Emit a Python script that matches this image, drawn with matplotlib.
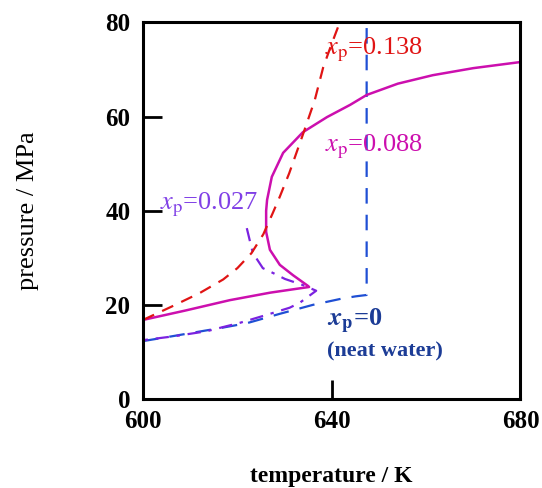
import numpy as np
import matplotlib
matplotlib.use('Agg')
import matplotlib.pyplot as plt
import matplotlib as mpl

mpl.rcParams['font.family'] = 'Liberation Serif'
mpl.rcParams['mathtext.fontset'] = 'stix'

# x_p = 0 (neat water): saturation curve + critical isotherm
T_w = [600, 606, 613, 616, 622, 629, 636, 642, 645, 647.4, 647.4]
P_w = [12.3, 13.3, 14.5, 15.0, 16.1, 18.1, 20.0, 21.3, 21.8, 22.1, 80]

# x_p = 0.027
T_027 = [622.0, 622.7, 623.3, 625.4, 627.5, 630.1, 633.9, 636.7,
         633.3, 631.1, 626.3, 620.6, 613.5, 606.4, 600]
P_027 = [36.3, 33.4, 31.0, 27.8, 26.8, 25.5, 24.2, 23.0,
         20.5, 19.4, 17.9, 16.2, 14.4, 13.3, 12.5]

# x_p = 0.088
T_088 = [600, 609, 618.4, 627, 635.2, 635.0, 631.8, 629.0, 626.9, 626.1, 626.1,
         626.3, 627.3, 629.7, 633.9, 639, 643.9, 647.4, 654, 661.4, 670, 680]
P_088 = [16.8, 18.8, 21.0, 22.6, 23.8, 24.0, 26.3, 28.5, 31.7, 35.5, 40.0,
         42.3, 47.2, 52.3, 56.7, 59.9, 62.5, 64.6, 67.0, 68.8, 70.3, 71.6]

# x_p = 0.138
T_138 = [600, 606, 612, 617, 620, 623, 625.5, 627.5, 629, 631, 634, 636.4, 638.2, 640, 641.7]
P_138 = [16.8, 19.6, 22.5, 25.4, 27.8, 31.0, 35.0, 39.5, 43.0, 48.0, 56.5, 63.5, 70.5, 75.5, 80]

c_blue = '#1f4fd4'
c_purple = '#7b22e0'
c_mag = '#cc0fae'
c_red = '#e01414'

fig = plt.figure(figsize=(5.42, 4.88), dpi=100)
ax = fig.add_axes([0.2638, 0.1824, 0.6965, 0.7715])

ax.plot(T_w, P_w, color=c_blue, lw=1.6, dashes=(7, 5))
ax.plot(T_027, P_027, color=c_purple, lw=1.6, dashes=(6, 3.5, 1.5, 3.5))
ax.plot(T_088, P_088, color=c_mag, lw=1.8)
ax.plot(T_138, P_138, color=c_red, lw=1.6, dashes=(5.5, 4))

ax.set_xlim(600, 680)
ax.set_ylim(0, 80)
ax.set_xticks([600, 640, 680])
ax.set_yticks([0, 20, 40, 60, 80])
for s in ax.spines.values():
    s.set_linewidth(2.2)
ax.tick_params(direction='in', length=14, width=2, labelsize=18)
ax.tick_params(axis='x', pad=8)
ax.tick_params(axis='y', pad=9)
for lab in ax.get_xticklabels() + ax.get_yticklabels():
    lab.set_fontweight('bold')

ax.set_xlabel('temperature / K', fontsize=17, fontweight='bold', labelpad=24)
ax.set_ylabel('pressure / MPa', fontsize=19, labelpad=48)

fs = 19
ax.text(638.6, 74.2, r'$x_\mathrm{p}$=0.138', color=c_red, fontsize=fs, va='center')
ax.text(638.6, 53.6, r'$x_\mathrm{p}$=0.088', color=c_mag, fontsize=fs, va='center')
ax.text(603.6, 41.2, r'$x_\mathrm{p}$=0.027', color='#8040e6', fontsize=fs, va='center')
ax.text(639.0, 16.4, r'$\mathbfit{x}_\mathbf{p}$=0', color='#1c3c96', fontsize=fs,
        fontweight='bold', va='center')
ax.text(639.0, 10.0, '(neat water)', color='#1c3c96', fontsize=16,
        fontweight='bold', va='center')

fig.savefig('out.png', dpi=100)
